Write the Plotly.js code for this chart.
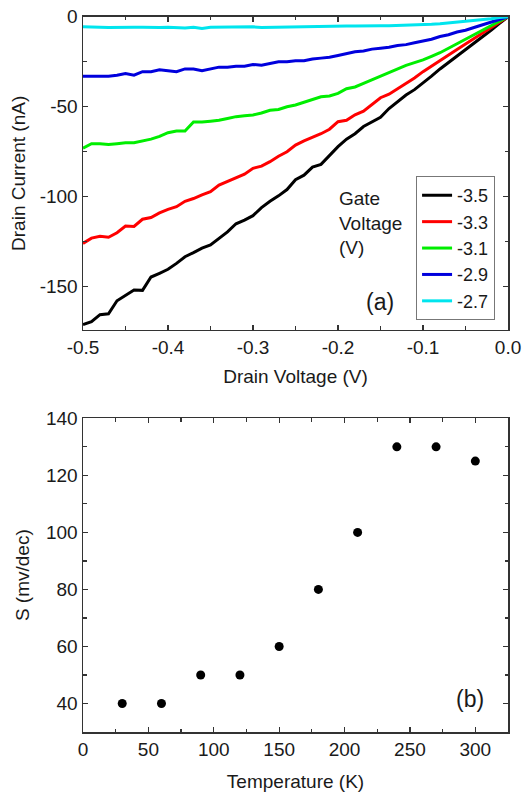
<!DOCTYPE html>
<html>
<head>
<meta charset="utf-8">
<script src="https://cdn.plot.ly/plotly-3.0.1.min.js"></script>
<style>html,body{margin:0;padding:0;background:#fff;}#chart{width:526px;height:793px;}</style>
</head>
<body>
<div id="chart"></div>
<script>
// ---- Panel (a): drain current vs drain voltage ----
const drainVoltage = [-0.50,-0.49,-0.48,-0.47,-0.46,-0.45,-0.44,-0.43,-0.42,-0.41,-0.40,-0.39,-0.38,-0.37,-0.36,-0.35,-0.34,-0.33,-0.32,-0.31,-0.30,-0.29,-0.28,-0.27,-0.26,-0.25,-0.24,-0.23,-0.22,-0.21,-0.20,-0.19,-0.18,-0.17,-0.16,-0.15,-0.14,-0.13,-0.12,-0.11,-0.10,-0.09,-0.08,-0.07,-0.06,-0.05,-0.04,-0.03,-0.02,-0.01,0.00];
const gateLabels = ['-3.5','-3.3','-3.1','-2.9','-2.7'];
const current_m35 = [-171,-169.4,-165.5,-165,-157.8,-155,-151.8,-152,-144.6,-142.5,-140.3,-137,-133.3,-131,-128.5,-126.8,-123,-119.5,-115,-113,-110.5,-106,-102.5,-99.5,-96,-90.5,-88,-83.5,-82,-77,-72.2,-68,-65,-61,-58.5,-55.9,-51,-47,-43.5,-40.5,-37,-33,-29,-25.5,-22,-18.5,-15,-11,-7.5,-3.7,0];
const current_m33 = [-125.9,-123,-122,-122.5,-120,-116.3,-116.5,-112.5,-111.5,-109,-107,-105.5,-102.5,-101,-99,-97.2,-93.5,-91.5,-89.5,-87.5,-84.2,-83,-80.5,-77.5,-75,-71.3,-69,-67,-65,-62.5,-58.3,-57.5,-54.5,-52.5,-49,-45,-43,-40,-37,-34,-30.5,-27.3,-24.2,-21.2,-18.2,-15.2,-12.2,-9.2,-6.1,-3.1,0];
const current_m31 = [-73,-70.5,-70.5,-71,-70.5,-70,-70,-69,-68,-66.5,-64.4,-63.5,-63.5,-58.5,-58.5,-58,-57.5,-56.5,-55.5,-55,-54.6,-53.5,-52,-51.5,-50,-49,-47.5,-46,-44.5,-44,-42.6,-40,-39,-37,-35,-33.3,-31,-29,-27,-25.5,-24,-22,-20,-17.5,-15,-12.5,-10,-7.5,-5,-2.5,0];
const current_m29 = [-33,-33,-33,-33,-32.5,-31.5,-32.5,-30.5,-30.5,-29.5,-30,-30.5,-29,-29,-30,-29,-28,-28,-27.5,-27.5,-26.5,-27,-26,-25,-25,-24.5,-24.5,-23.5,-23,-22.5,-21.5,-20.5,-19.5,-19,-18,-17.5,-17,-16,-15.5,-14.5,-13.5,-12.5,-11,-10,-8.5,-7.5,-6,-4.5,-3,-1.5,0];
const current_m27 = [-5.5,-5.5,-5.8,-6,-5.8,-5.7,-5.8,-5.8,-6,-6,-5.8,-6,-6.2,-5.8,-6.5,-5.9,-5.8,-5.7,-5.7,-5.8,-5.6,-6,-5.9,-5.6,-5.5,-5.6,-5.4,-5.4,-5.3,-5.3,-5.3,-5.2,-5.2,-5,-5,-5,-5,-4.9,-4.8,-4.6,-4.4,-4.2,-3.9,-3.5,-3.1,-2.6,-2.1,-1.6,-1.1,-0.5,0];
const xTickVals_a = [-0.5,-0.4,-0.3,-0.2,-0.1,0.0];
const xTickText_a = ['-0.5','-0.4','-0.3','-0.2','-0.1','0.0'];
const yTickVals_a = [0,-50,-100,-150];
const yTickText_a = ['0','-50','-100','-150'];

// ---- Panel (b): S vs temperature ----
const temperature = [30,60,90,120,150,180,210,240,270,300];
const sValues = [40,40,50,50,60,80,100,130,130,125];
const xTickVals_b = [0,50,100,150,200,250,300];
const yTickVals_b = [40,60,80,100,120,140];

const lineColors = ['#000000','#ff0000','#00ee00','#0000dd','#00e5ee'];
const seriesA = [current_m35,current_m33,current_m31,current_m29,current_m27];

const FONT = 'Arial, "Liberation Sans", sans-serif';
const TXT = '#1a1a1a';
const FS = 19;

const traces = seriesA.map((ys,i)=>({
  x: drainVoltage, y: ys, type:'scatter', mode:'lines',
  name: gateLabels[i], line:{color:lineColors[i], width:3},
  xaxis:'x', yaxis:'y', showlegend:true
}));
traces.push({
  x: temperature, y: sValues, type:'scatter', mode:'markers',
  marker:{color:'#000', size:9}, xaxis:'x2', yaxis:'y2', showlegend:false
});

function ax(extra){
  return Object.assign({
    showline:true, linecolor:'#333', linewidth:1.5, mirror:'ticks',
    ticks:'inside', ticklen:5, tickwidth:1.3, tickcolor:'#333',
    showgrid:false, zeroline:false, fixedrange:true,
    tickfont:{family:FONT, size:FS, color:TXT}
  }, extra);
}
const minorStyle = {ticks:'inside', ticklen:3.5, tickwidth:1.2, tickcolor:'#333', tick0:0};

const layout = {
  width:526, height:793,
  margin:{l:0,r:0,t:0,b:0},
  paper_bgcolor:'#fff', plot_bgcolor:'#fff',
  font:{family:FONT, color:TXT},
  showlegend:true,
  legend:{x:0.791, y:0.778, xanchor:'left', yanchor:'top',
    bordercolor:'#777', borderwidth:1, bgcolor:'rgba(255,255,255,0)',
    font:{family:FONT, size:18, color:TXT}, tracegroupgap:0},
  xaxis: ax({domain:[0.1578,0.9658], anchor:'y', range:[-0.5,0],
    tickvals:xTickVals_a, ticktext:xTickText_a,
    minor:Object.assign({dtick:0.05}, minorStyle),
    title:{text:'Drain Voltage (V)', standoff:12, font:{family:FONT,size:FS,color:TXT}}}),
  yaxis: ax({domain:[0.5839,0.9789], anchor:'x', range:[-174,0],
    tickvals:yTickVals_a, ticktext:yTickText_a,
    minor:Object.assign({dtick:25}, minorStyle),
    title:{text:'Drain Current (nA)', standoff:9, font:{family:FONT,size:FS,color:TXT}}}),
  xaxis2: ax({domain:[0.1578,0.9658], anchor:'y2', range:[0,325],
    tickvals:xTickVals_b,
    minor:Object.assign({dtick:25}, minorStyle),
    title:{text:'Temperature (K)', standoff:15, font:{family:FONT,size:FS,color:TXT}}}),
  yaxis2: ax({domain:[0.0769,0.4725], anchor:'x2', range:[30,140],
    tickvals:yTickVals_b,
    minor:Object.assign({dtick:10}, minorStyle),
    title:{text:'S (mv/dec)', standoff:11, font:{family:FONT,size:FS,color:TXT}}}),
  annotations:[
    {xref:'paper', yref:'paper', x:0.641, y:0.765, xanchor:'left', yanchor:'top', align:'left',
     showarrow:false, text:'Gate<br>Voltage<br>(V)', font:{family:FONT,size:FS,color:TXT}},
    {xref:'paper', yref:'paper', x:0.723, y:0.619, xanchor:'center', yanchor:'middle',
     showarrow:false, text:'(a)', font:{family:FONT,size:23,color:TXT}},
    {xref:'paper', yref:'paper', x:0.894, y:0.119, xanchor:'center', yanchor:'middle',
     showarrow:false, text:'(b)', font:{family:FONT,size:23,color:TXT}}
  ]
};

Plotly.newPlot('chart', traces, layout, {displayModeBar:false, staticPlot:true});
</script>
</body>
</html>
